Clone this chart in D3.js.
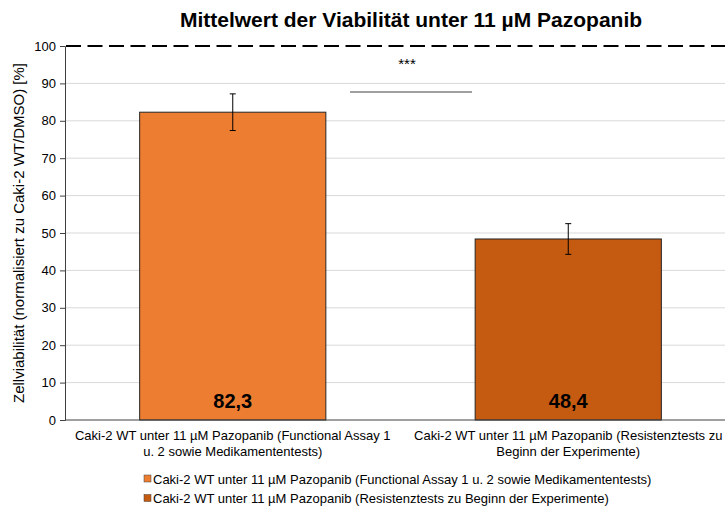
<!DOCTYPE html>
<html>
<head>
<meta charset="utf-8">
<script src="https://cdn.jsdelivr.net/npm/d3@7"></script>
<style>
body { margin: 0; background: #fff; }
text { font-family: Arial, "Liberation Sans", sans-serif; }
</style>
</head>
<body>
<script>
// data
var categories = ["Caki-2 WT unter 11 µM Pazopanib (Functional Assay 1 u. 2 sowie Medikamententests)",
                  "Caki-2 WT unter 11 µM Pazopanib (Resistenztests zu Beginn der Experimente)"];
var axisLines = [["Caki-2 WT unter 11 µM Pazopanib (Functional Assay 1", "u. 2 sowie Medikamententests)"],
                 ["Caki-2 WT unter 11 µM Pazopanib (Resistenztests zu", "Beginn der Experimente)"]];
var means = [82.3, 48.4];
var errors = [4.9, 4.1];
var labels = ["82,3", "48,4"];
var colors = ["#ED7D31", "#C55A11"];
var yTicks = [0, 10, 20, 30, 40, 50, 60, 70, 80, 90, 100];
var refLine = 100;
var sigLevel = 87.7;

var svg = d3.select("body").append("svg")
  .attr("width", 725)
  .attr("height", 508);

var margin = {top: 46, left: 65},
    plotW = 671,
    plotH = 374;

var g = svg.append("g").attr("transform", "translate(" + margin.left + "," + margin.top + ")");

var x = d3.scaleBand()
  .domain(categories)
  .range([0, plotW])
  .paddingInner(0.445)
  .paddingOuter(0.2225);

var y = d3.scaleLinear()
  .domain([0, 100])
  .range([plotH, 0]);

// grid
g.selectAll(".grid")
  .data(yTicks.slice(1, -1))
  .enter().append("line")
  .attr("x1", 0).attr("x2", plotW)
  .attr("y1", function(d) { return y(d); })
  .attr("y2", function(d) { return y(d); })
  .attr("stroke", "#d9d9d9")
  .attr("stroke-width", 1);

// bars
g.selectAll(".bar")
  .data(means)
  .enter().append("rect")
  .attr("x", function(d, i) { return x(categories[i]); })
  .attr("y", function(d) { return y(d); })
  .attr("width", x.bandwidth())
  .attr("height", function(d) { return y(0) - y(d); })
  .attr("fill", function(d, i) { return colors[i]; })
  .attr("stroke", "#262626")
  .attr("stroke-width", 1);

// error bars
var eb = g.selectAll(".err")
  .data(means)
  .enter().append("g")
  .attr("transform", function(d, i) { return "translate(" + (x(categories[i]) + x.bandwidth() / 2) + ",0)"; });
eb.append("line")
  .attr("y1", function(d, i) { return y(d + errors[i]); })
  .attr("y2", function(d, i) { return y(d - errors[i]); })
  .attr("stroke", "#000").attr("stroke-width", 1);
eb.append("line")
  .attr("x1", -3).attr("x2", 3)
  .attr("y1", function(d, i) { return y(d + errors[i]); })
  .attr("y2", function(d, i) { return y(d + errors[i]); })
  .attr("stroke", "#000");
eb.append("line")
  .attr("x1", -3).attr("x2", 3)
  .attr("y1", function(d, i) { return y(d - errors[i]); })
  .attr("y2", function(d, i) { return y(d - errors[i]); })
  .attr("stroke", "#000");

// value labels
g.selectAll(".val")
  .data(labels)
  .enter().append("text")
  .attr("x", function(d, i) { return x(categories[i]) + x.bandwidth() / 2; })
  .attr("y", plotH - 12)
  .attr("text-anchor", "middle")
  .style("font-size", "20px")
  .style("font-weight", "bold")
  .text(function(d) { return d; });

// significance
g.append("line")
  .attr("x1", 285).attr("x2", 407)
  .attr("y1", y(sigLevel)).attr("y2", y(sigLevel))
  .attr("stroke", "#404040").attr("stroke-width", 1);
g.append("text")
  .attr("x", 342).attr("y", 23)
  .attr("text-anchor", "middle")
  .style("font-size", "15px")
  .text("***");

// y axis
var yAxis = g.append("g")
  .call(d3.axisLeft(y).tickValues(yTicks).tickSize(5).tickPadding(4));
yAxis.select(".domain").attr("stroke", "#404040");
yAxis.selectAll(".tick line").attr("stroke", "#404040");
yAxis.selectAll("text").style("font-size", "13px").attr("fill", "#000");

// x axis line
g.append("line")
  .attr("x1", 0).attr("x2", plotW)
  .attr("y1", plotH).attr("y2", plotH)
  .attr("stroke", "#404040");

// reference line at 100
g.append("line")
  .attr("x1", 1).attr("x2", plotW)
  .attr("y1", y(refLine)).attr("y2", y(refLine))
  .attr("stroke", "#000")
  .attr("stroke-width", 2)
  .attr("stroke-dasharray", "15,6.5");

// category labels
var cl = g.selectAll(".cat")
  .data(axisLines)
  .enter().append("text")
  .attr("text-anchor", "middle")
  .attr("transform", function(d, i) { return "translate(" + (x(categories[i]) + x.bandwidth() / 2) + "," + (plotH + 20) + ")"; })
  .style("font-size", "13px");
cl.selectAll("tspan")
  .data(function(d) { return d; })
  .enter().append("tspan")
  .attr("x", 0)
  .attr("dy", function(d, i) { return i === 0 ? 0 : 16; })
  .text(function(d) { return d; });

// y label
svg.append("text")
  .attr("transform", "translate(24," + (margin.top + plotH / 2) + ") rotate(-90)")
  .attr("text-anchor", "middle")
  .style("font-size", "15px")
  .text("Zellviabilität (normalisiert zu Caki-2 WT/DMSO) [%]");

// title
svg.append("text")
  .attr("x", 411).attr("y", 27)
  .attr("text-anchor", "middle")
  .style("font-size", "21px")
  .style("font-weight", "bold")
  .text("Mittelwert der Viabilität unter 11 µM Pazopanib");

// legend
var legend = svg.selectAll(".legend")
  .data(categories)
  .enter().append("g")
  .attr("transform", function(d, i) { return "translate(144," + (475 + i * 19.5) + ")"; });
legend.append("rect")
  .attr("width", 7).attr("height", 7)
  .attr("fill", function(d, i) { return colors[i]; })
  .attr("stroke", "#404040").attr("stroke-width", 0.5);
legend.append("text")
  .attr("x", 9).attr("y", 8.5)
  .style("font-size", "13px")
  .text(function(d) { return d; });
</script>
</body>
</html>
